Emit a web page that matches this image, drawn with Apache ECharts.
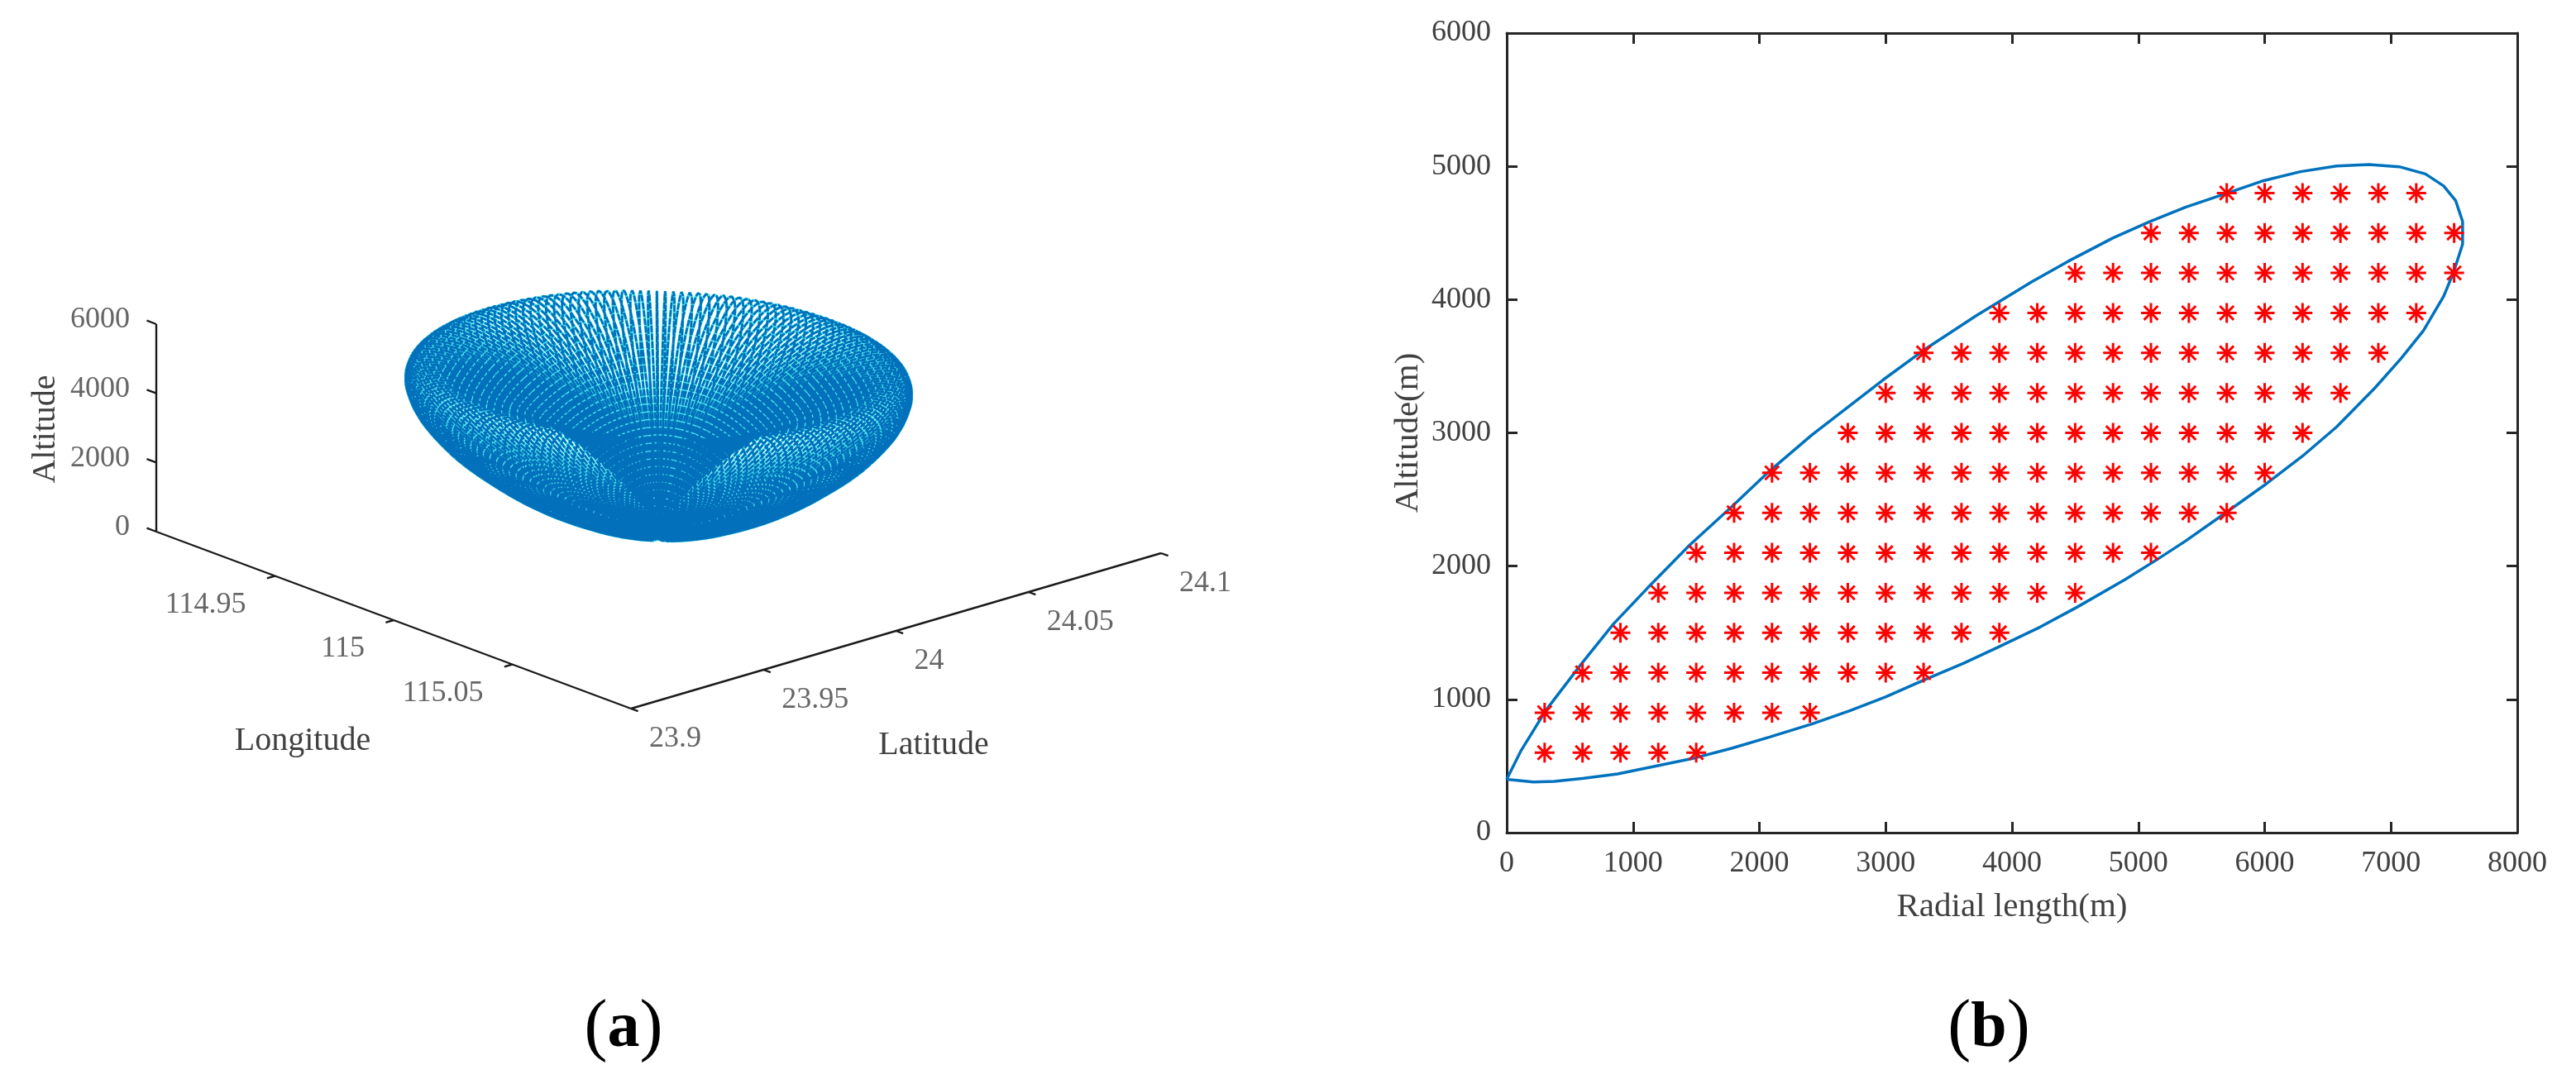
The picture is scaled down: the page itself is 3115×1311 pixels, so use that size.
<!DOCTYPE html>
<html>
<head>
<meta charset="utf-8">
<script src="https://cdnjs.cloudflare.com/ajax/libs/echarts/6.0.0/echarts.min.js"></script>
<style>
  html, body { margin: 0; padding: 0; background: #fff; }
  #mainChart { width: 3115px; height: 1311px; }
</style>
</head>
<body>
<div id="mainChart"></div>
<script>
// beam envelope, panel (b)
var envelopeRadial = [0,110,311,595,845,1112,1446,1780,2081,2415,2699,2983,3300,3717,4157,4446,4798,5085,5373,5693,5979,6283,6570,6826,7066,7273,7417,7512,7567,7567,7497,7417,7257,7081,6874,6570,6299,6012,5693,5373,5149,4894,4511,4223,3884,3617,3300,2999,2715,2415,2081,1780,1496,1212,878,611,377,210,0];
var envelopeAltitude = [400,610,919,1271,1566,1833,2156,2445,2714,2984,3192,3400,3620,3879,4134,4288,4462,4583,4693,4796,4889,4960,5002,5014,4997,4943,4853,4743,4587,4416,4208,4025,3767,3559,3338,3045,2825,2617,2401,2188,2050,1898,1690,1543,1389,1271,1144,1018,914,815,717,633,562,506,441,408,385,380,400];

// red sample points, one row per altitude
var sampleAltitudes = [600,900,1200,1500,1800,2100,2400,2700,3000,3300,3600,3900,4200,4500,4800];
var sampleRadials = [
  [300,600,900,1200,1500],
  [300,600,900,1200,1500,1800,2100,2400],
  [600,900,1200,1500,1800,2100,2400,2700,3000,3300],
  [900,1200,1500,1800,2100,2400,2700,3000,3300,3600,3900],
  [1200,1500,1800,2100,2400,2700,3000,3300,3600,3900,4200,4500],
  [1500,1800,2100,2400,2700,3000,3300,3600,3900,4200,4500,4800,5100],
  [1800,2100,2400,2700,3000,3300,3600,3900,4200,4500,4800,5100,5400,5700],
  [2100,2400,2700,3000,3300,3600,3900,4200,4500,4800,5100,5400,5700,6000],
  [2700,3000,3300,3600,3900,4200,4500,4800,5100,5400,5700,6000,6300],
  [3000,3300,3600,3900,4200,4500,4800,5100,5400,5700,6000,6300,6600],
  [3300,3600,3900,4200,4500,4800,5100,5400,5700,6000,6300,6600,6900],
  [3900,4200,4500,4800,5100,5400,5700,6000,6300,6600,6900,7200],
  [4500,4800,5100,5400,5700,6000,6300,6600,6900,7200,7500],
  [5100,5400,5700,6000,6300,6600,6900,7200,7500],
  [5700,6000,6300,6600,6900,7200]
];

// panel (a) tick labels
var lonTicks = [114.95, 115, 115.05];
var latTicks = [23.9, 23.95, 24, 24.05, 24.1];
var altTicks = [0, 2000, 4000, 6000];
var scanStepDeg = 2;   // the beam is swept round the radar

var lonRange = [114.9, 115.1];
var latRange = [23.9, 24.1];
var radarLon = 115, radarLat = 24;
var metresPerDegLat = 111000, metresPerDegLon = 101400;

// oblique view of the 3D box onto the hidden axes of grid 0
function project(lon, lat, alt) {
  var u = (lonRange[1] - lon) / (lonRange[1] - lonRange[0]);
  var v = (lat - latRange[0]) / (latRange[1] - latRange[0]);
  return [763 - 574 * u + 641 * v, 857 - 214 * u - 188 * v - alt / 6000 * 251];
}

var sweep = [];
for (var az = 0; az < 360; az += scanStepDeg) {
  var s = Math.sin(az * Math.PI / 180), c = Math.cos(az * Math.PI / 180);
  for (var i = 0; i < envelopeRadial.length; i++) {
    sweep.push(project(radarLon + envelopeRadial[i] * s / metresPerDegLon,
                       radarLat + envelopeRadial[i] * c / metresPerDegLat,
                       envelopeAltitude[i]));
  }
  sweep.push([null, null]);
}

var boxLines = [];
function seg(a, b) { boxLines.push(a, b, [null, null]); }
seg(project(lonRange[0], latRange[0], 0), project(lonRange[1], latRange[0], 0));
seg(project(lonRange[1], latRange[0], 0), project(lonRange[1], latRange[1], 0));
seg(project(lonRange[0], latRange[0], 0), project(lonRange[0], latRange[0], 6000));
lonTicks.forEach(function (t) { seg(project(t, latRange[0], 0), project(t, latRange[0] - 0.003, 0)); });
latTicks.forEach(function (t) { seg(project(lonRange[1], t, 0), project(lonRange[1] + 0.003, t, 0)); });
altTicks.forEach(function (t) { seg(project(lonRange[0], latRange[0], t), project(lonRange[0] - 0.004, latRange[0], t)); });

var lonLabelData = lonTicks.map(function (t) { return project(t, latRange[0], 0).concat(String(t)); });
var latLabelData = latTicks.map(function (t) { return project(lonRange[1], t, 0).concat(String(t)); });
var altLabelData = altTicks.map(function (t) { return project(lonRange[0], latRange[0], t).concat(String(t)); });

var samplePoints = [];
sampleAltitudes.forEach(function (alt, r) {
  sampleRadials[r].forEach(function (x) { samplePoints.push([x, alt]); });
});
var envelope = envelopeRadial.map(function (x, i) { return [x, envelopeAltitude[i]]; });

var serif = '"Liberation Serif", "Times New Roman", serif';
var axisColor = '#262626', textColor = '#404040';
var asterisk = 'path://M0 10H20M10 0V20M3 3L17 17M17 3L3 17';
function plain(v) { return String(v); }

function tickLabels(data, align, offset) {
  return {
    type: 'scatter', xAxisIndex: 0, yAxisIndex: 0, data: data, symbolSize: 1,
    itemStyle: { color: 'transparent' }, silent: true,
    label: {
      show: true, position: 'inside', align: align, verticalAlign: 'middle', offset: offset,
      fontFamily: serif, fontSize: 36, color: textColor,
      formatter: function (p) { return p.value[2]; }
    }
  };
}
function caption(letter, x) {
  return {
    text: '{p|(}{a|' + letter + '}{p|)}', left: x, top: 1198, textAlign: 'center',
    textStyle: { rich: {
      p: { fontFamily: serif, fontSize: 84, fontWeight: 'normal', color: '#000' },
      a: { fontFamily: serif, fontSize: 78, fontWeight: 'bold', color: '#000' }
    } }
  };
}
function name3d(text, x, y, rotation) {
  return {
    type: 'text', x: x, y: y, rotation: rotation || 0,
    style: { text: text, font: '40px ' + serif, fill: textColor, textAlign: 'center', textVerticalAlign: 'middle' }
  };
}

var chart = echarts.init(document.getElementById('mainChart'));
chart.setOption({
  animation: false,
  backgroundColor: '#fff',
  title: [caption('a', 749), caption('b', 2400)],
  graphic: [
    name3d('Altitude', 55, 519, Math.PI / 2),
    name3d('Longitude', 366, 896),
    name3d('Latitude', 1129, 901)
  ],
  grid: [
    { left: 0, top: 0, width: 1500, height: 1311 },
    { left: 1822, right: 71, top: 40, bottom: 304 }
  ],
  xAxis: [
    { gridIndex: 0, type: 'value', min: 0, max: 1500, show: false },
    {
      gridIndex: 1, type: 'value', min: 0, max: 8000, interval: 1000,
      name: 'Radial length(m)', nameLocation: 'middle', nameGap: 70,
      nameTextStyle: { fontFamily: serif, fontSize: 41, color: textColor },
      axisLine: { onZero: false, lineStyle: { color: axisColor, width: 3 } },
      axisTick: { inside: true, length: 13, lineStyle: { color: axisColor, width: 3 } },
      axisLabel: { fontFamily: serif, fontSize: 36, color: textColor, margin: 20, formatter: plain },
      splitLine: { show: false }
    },
    {
      gridIndex: 1, type: 'value', position: 'top', min: 0, max: 8000, interval: 1000,
      axisLine: { show: true, onZero: false, lineStyle: { color: axisColor, width: 3 } },
      axisTick: { show: true, inside: true, length: 13, lineStyle: { color: axisColor, width: 3 } },
      axisLabel: { show: false }, splitLine: { show: false }
    }
  ],
  yAxis: [
    { gridIndex: 0, type: 'value', min: 0, max: 1311, inverse: true, show: false },
    {
      gridIndex: 1, type: 'value', min: 0, max: 6000, interval: 1000,
      name: 'Altitude(m)', nameLocation: 'middle', nameGap: 98,
      nameTextStyle: { fontFamily: serif, fontSize: 41, color: textColor },
      axisLine: { onZero: false, lineStyle: { color: axisColor, width: 3 } },
      axisTick: { inside: true, length: 13, lineStyle: { color: axisColor, width: 3 } },
      axisLabel: { fontFamily: serif, fontSize: 36, color: textColor, margin: 19, formatter: plain },
      splitLine: { show: false }
    },
    {
      gridIndex: 1, type: 'value', position: 'right', min: 0, max: 6000, interval: 1000,
      axisLine: { show: true, onZero: false, lineStyle: { color: axisColor, width: 3 } },
      axisTick: { show: true, inside: true, length: 13, lineStyle: { color: axisColor, width: 3 } },
      axisLabel: { show: false }, splitLine: { show: false }
    }
  ],
  series: [
    {
      type: 'line', xAxisIndex: 0, yAxisIndex: 0, data: sweep, showSymbol: false, silent: true, z: 2,
      lineStyle: { color: '#45e6ee', width: 3.4 }
    },
    {
      type: 'line', xAxisIndex: 0, yAxisIndex: 0, data: sweep, showSymbol: false, silent: true, z: 3,
      lineStyle: { color: '#0270bb', width: 2.7, type: [8, 1.5] }
    },
    {
      type: 'line', xAxisIndex: 0, yAxisIndex: 0, data: boxLines, showSymbol: false, silent: true, z: 4,
      lineStyle: { color: '#1a1a1a', width: 2.4 }
    },
    tickLabels(lonLabelData, 'right', [-35, 35]),
    tickLabels(latLabelData, 'left', [22, 37]),
    tickLabels(altLabelData, 'right', [-32, -5]),
    {
      type: 'line', xAxisIndex: 1, yAxisIndex: 1, data: envelope, showSymbol: false, z: 3,
      lineStyle: { color: '#0072bd', width: 3.5 }
    },
    {
      type: 'scatter', xAxisIndex: 1, yAxisIndex: 1, data: samplePoints, z: 4,
      symbol: asterisk, symbolSize: 24,
      itemStyle: { color: 'none', borderColor: '#ff0000', borderWidth: 3, opacity: 1 }
    }
  ]
});
</script>
</body>
</html>
